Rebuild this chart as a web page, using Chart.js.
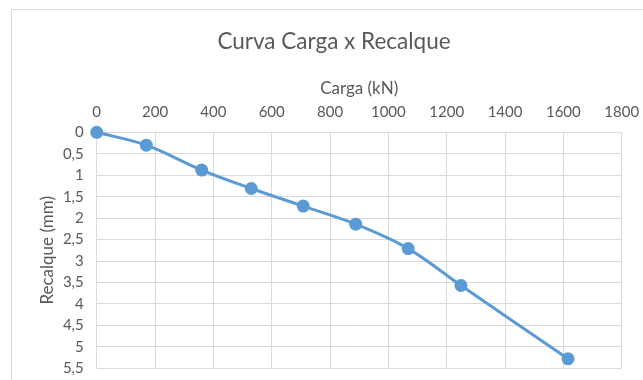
<!DOCTYPE html>
<html>
<head>
<meta charset="utf-8">
<script src="https://cdn.jsdelivr.net/npm/chart.js@4"></script>
<style>
  body { margin: 0; background: #fff; overflow: hidden; }
  #wrap { position: relative; width: 643px; height: 380px; }
  #moldura { position: absolute; left: 11px; top: 9px; width: 700px; height: 420px; border: 1px solid #d9d9d9; pointer-events: none; }
</style>
</head>
<body>
<div id="wrap">
  <canvas id="plot1" width="643" height="380"></canvas>
  <div id="moldura"></div>
</div>
<script>
// dados
let carga = [0, 170, 360, 530, 708, 888, 1068, 1249, 1616];
let recalque = [0, 0.30, 0.88, 1.31, 1.72, 2.14, 2.71, 3.57, 5.28];
let cargaTicks = [0, 200, 400, 600, 800, 1000, 1200, 1400, 1600, 1800];
let recalqueTicks = [0, 0.5, 1, 1.5, 2, 2.5, 3, 3.5, 4, 4.5, 5, 5.5];

let cinza = '#595959';
let fonte = 'Lato, "Open Sans", sans-serif';

let cargarGrafico = () => {
  let pontos = carga.map((x, i) => ({x: x, y: recalque[i]}));
  let plotRef = document.getElementById('plot1');
  let config = {
    type: 'scatter',
    data: {
      datasets: [
        {
          label: 'Recalque',
          data: pontos,
          showLine: true,
          clip: false,
          borderColor: '#5B9BD5',
          backgroundColor: '#5B9BD5',
          borderWidth: 3,
          pointRadius: 5,
          pointHoverRadius: 5,
          tension: 0.35
        }
      ]
    },
    options: {
      responsive: false,
      animation: false,
      layout: { padding: { left: 25, right: 0, top: 0, bottom: 11.7 } },
      plugins: {
        legend: { display: false },
        tooltip: { enabled: false },
        title: {
          display: true,
          text: 'Curva Carga x Recalque',
          color: cinza,
          font: { family: fonte, size: 22.5, weight: 'normal' },
          padding: { top: 28.5, bottom: 8.5 }
        }
      },
      scales: {
        x: {
          type: 'linear',
          position: 'top',
          min: 0,
          max: 1800,
          afterBuildTicks: (scale) => { scale.ticks = cargaTicks.map(v => ({value: v})); },
          afterFit: (scale) => { scale.height = 68.3; scale.paddingRight = 21.3; scale.paddingLeft = 0; },
          title: {
            display: true,
            text: 'Carga (kN)',
            color: cinza,
            font: { family: fonte, size: 17 },
            padding: { top: 14, bottom: 0 }
          },
          ticks: {
            color: cinza,
            font: { family: fonte, size: 15 },
            padding: 11,
            maxRotation: 0,
            callback: (v) => String(v)
          },
          grid: { color: '#d9d9d9', drawTicks: false },
          border: { display: false }
        },
        y: {
          type: 'linear',
          reverse: true,
          min: 0,
          max: 5.5,
          afterBuildTicks: (scale) => { scale.ticks = recalqueTicks.map(v => ({value: v})); },
          afterFit: (scale) => { scale.width = 71.7; scale.paddingTop = 0; scale.paddingBottom = 0; },
          title: {
            display: true,
            text: 'Recalque (mm)',
            color: cinza,
            font: { family: fonte, size: 17 },
            padding: { top: 12, bottom: 0 }
          },
          ticks: {
            color: cinza,
            font: { family: fonte, size: 15 },
            padding: 13,
            callback: (v) => String(v).replace('.', ',')
          },
          grid: { color: '#d9d9d9', drawTicks: false },
          border: { display: false }
        }
      }
    }
  };
  let chart1 = new Chart(plotRef, config);
};

(function(){
  cargarGrafico();
})();
</script>
</body>
</html>
